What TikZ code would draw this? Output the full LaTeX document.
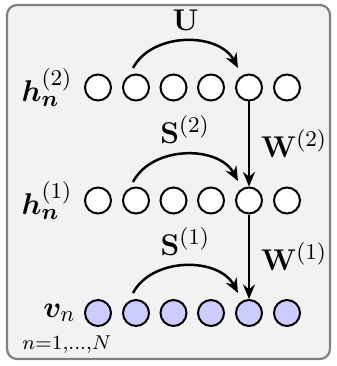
\documentclass[tikz,border=0pt]{standalone}
\usepackage{amsmath}
\usepackage{bm}
\usetikzlibrary{arrows.meta}
\begin{document}
\begin{tikzpicture}[x=0.4pt,y=-0.4pt,
  every node/.style={font=\fontsize{12.5}{15}\selectfont},
  unit/.style={circle,draw=black,line width=0.8pt,minimum size=10.4pt,inner sep=0pt,fill=white},
  visible/.style={unit,fill=blue!20},
  link/.style={line width=1pt,-{Stealth[length=5.8pt,width=4.8pt]}},
  rowlabel/.style={anchor=east,inner sep=0pt},
  plate/.style={draw=black!50,line width=0.9pt,fill=black!5,rounded corners=4pt}]
\useasboundingbox (0,0) rectangle (336,366);
% plate
\draw[plate] (7,5) rectangle (330,359);
% rows of units
\foreach \i/\x in {1/98,2/136,3/173.5,4/211,5/249,6/287}{
  \node[unit] (t\i) at (\x,87.5) {};
  \node[unit] (m\i) at (\x,200.5) {};
  \node[visible] (b\i) at (\x,313) {};
}
% row labels
\node[rowlabel] (lt) at (73,87.5) {$\bm{h}_{\bm{n}}^{(2)}$};
\node[rowlabel] (lm) at (73,200.5) {$\bm{h}_{\bm{n}}^{(1)}$};
\node[rowlabel] (lb) at (76,313) {$\bm{v}_n$};
% recurrent connections
\coordinate (ts) at (133,68); \coordinate (te) at (238,68);
\coordinate (ms) at (133,182); \coordinate (me) at (238,181);
\coordinate (bs) at (133,293); \coordinate (be) at (238,293);
\draw[link] (ts) to[bend left=62] node[above=0.5pt] (lU) {$\mathbf{U}$} (te);
\draw[link] (ms) to[bend left=62] node[above=0.5pt] (lS2) {$\mathbf{S}^{(2)}$} (me);
\draw[link] (bs) to[bend left=62] node[above=0.5pt] (lS1) {$\mathbf{S}^{(1)}$} (be);
% layer-to-layer connections
\draw[link] (t5) -- node[right=1pt] (lW2) {$\mathbf{W}^{(2)}$} (m5);
\draw[link] (m5) -- node[right=1pt] (lW1) {$\mathbf{W}^{(1)}$} (b5);
% plate index
\node[anchor=south west,inner sep=0pt,font=\fontsize{11}{13}\selectfont] (idx) at (22,354) {$\scriptstyle n=1,\dots,N$};
\end{tikzpicture}
\end{document}
